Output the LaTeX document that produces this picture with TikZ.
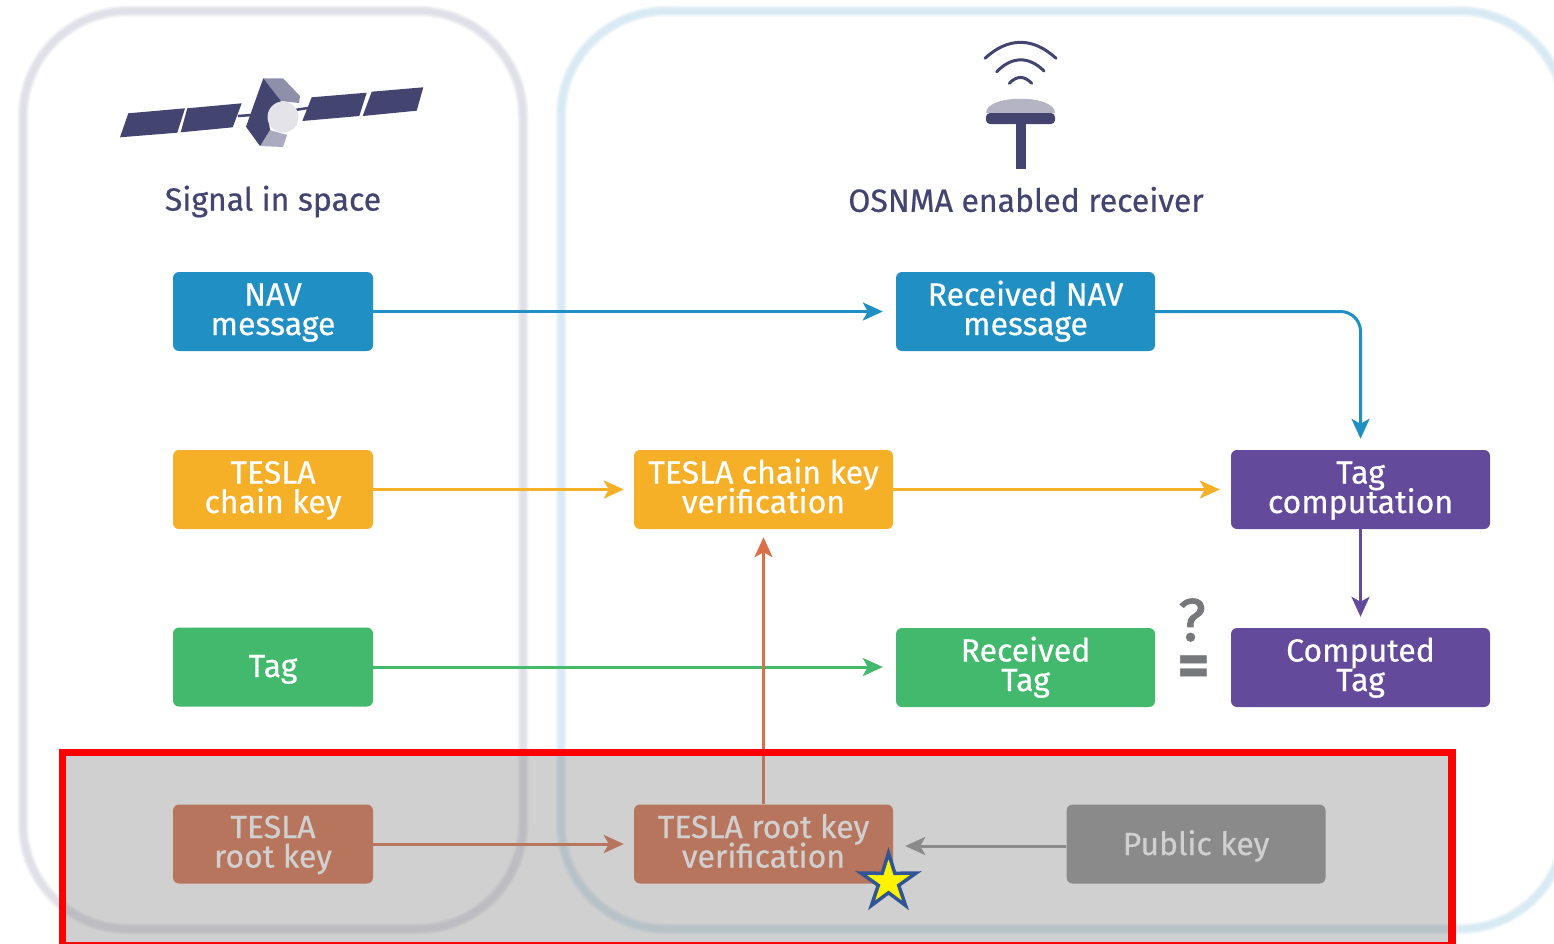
\documentclass[tikz,border=0pt]{standalone}
\usepackage{fontspec}
\setmainfont{Fira Sans}[FakeBold=0.5]
\usetikzlibrary{arrows.meta,shapes.geometric}
\definecolor{navy}{HTML}{43446F}
\definecolor{bluec}{HTML}{2090C4}
\definecolor{orangec}{HTML}{F5B027}
\definecolor{greenc}{HTML}{42B96C}
\definecolor{purplec}{HTML}{634A9B}
\definecolor{brickc}{HTML}{D9704A}
\definecolor{publicc}{HTML}{909193}
\definecolor{lavc}{HTML}{DEDEE8}
\definecolor{skyc}{HTML}{D6E9F3}
\definecolor{qgray}{HTML}{77787B}
\newcommand\myboxfont{\fontsize{32}{29.5}\selectfont\setlength{\lineskiplimit}{-100pt}\setlength{\lineskip}{0pt}}
\tikzset{
  box/.style={rounded corners=6pt,inner sep=0pt,minimum height=79pt,align=center,text=white,
    font=\myboxfont,text height=54pt,text depth=7pt},
  boxs/.style={box,minimum width=200pt},
  boxl/.style={box,minimum width=259pt},
  oneline/.style={text height=23pt,text depth=3pt},
  conn/.style={line width=3pt,-{Stealth[length=20pt,width=18pt,inset=5pt]},shorten >=12pt},
  title/.style={text=navy,inner sep=0pt,font=\fontsize{32}{36}\selectfont},
  sat/.style={fill=navy,draw=none},
  wave/.style={draw=navy,line width=3pt,line cap=round},
  panel/.style={rounded corners=105pt},
}
\begin{document}
\begin{tikzpicture}[x=1pt,y=-1pt]
\useasboundingbox (0,0) rectangle (1554,943);
\clip (0,0) rectangle (1554,943);
\fill[white] (0,0) rectangle (1554,943);
% panels (soft edges)
\foreach \w/\o in {11/.35,8/.5,5/.8}{
  \draw[panel,draw=lavc,line width=\w pt,opacity=\o] (23,11) rectangle (523,929);
  \draw[panel,draw=skyc,line width=\w pt,opacity=\o] (561,11) rectangle (1565,929);
}
% satellite
\fill[sat] (128.3,113.3)--(185,108.3)--(177.3,132.7)--(120,137.3)--cycle;
\fill[sat] (187.3,108.3)--(241.7,103.3)--(232.7,127.3)--(180.7,132.3)--cycle;
\draw[navy,line width=2.5pt] (238,116)--(252,115);
\draw[navy,line width=2.5pt] (295,110)--(308,108);
\fill[sat] (311.7,97.3)--(366.7,92.7)--(359.3,116)--(302.3,121)--cycle;
\fill[sat] (371.7,91.7)--(423.3,87.3)--(416.7,110.7)--(362.7,116)--cycle;
\fill[fill=navy!60!white] (263.3,78.3)--(283,78.3)--(300,96)--(299,103)--(281,101)--cycle;
\fill[fill=navy!45!white] (270,130)--(287,135)--(283,147)--(260,146)--cycle;
\fill[sat] (263.3,78.3)--(281,101)--(268,117)--(270,130)--(260,146)--(246,126.7)--cycle;
\fill[fill=navy!15!white] (283,117) circle (15.5);
% antenna
\draw[wave] (985,58.3) .. controls (1008,37) and (1033,37) .. (1056,58.3);
\draw[wave] (996.7,71.7) .. controls (1012,56) and (1029,56) .. (1044,71);
\draw[wave] (1009.3,83.3) .. controls (1017,75.5) and (1024,75.5) .. (1031.7,83.3);
\fill[navy!40!white] (986,113) .. controls (986,94) and (1055,94) .. (1055,113) -- cycle;
\fill[navy,rounded corners=4pt] (986,113) -- (986,124) -- (1055,124) -- (1055,113) -- cycle;
\fill[navy] (1016,120) rectangle (1026,169);
% titles
\node[title] (sis) at (273,201.5) {Signal in space};
\node[title] (rcv) at (1026,199.5) {OSNMA enabled receiver};
% boxes
\node[boxs,fill=bluec] (nav) at (273,311.5) {NAV\\message};
\node[boxl,fill=bluec] (recnav) at (1025.5,311.5) {Received NAV\\message};
\node[boxs,fill=orangec] (chain) at (273,489.5) {TESLA\\chain key};
\node[boxl,fill=orangec] (chainv) at (763.5,489.5) {TESLA chain key\\verification};
\node[boxl,fill=purplec] (tagc) at (1360.5,489.5) {Tag\\computation};
\node[boxs,fill=greenc,oneline] (tag) at (273,667) {Tag};
\node[boxl,fill=greenc] (rectag) at (1025.5,667.5) {Received\\Tag};
\node[boxl,fill=purplec] (comptag) at (1360.5,667.5) {Computed\\Tag};
\node[boxs,fill=brickc] (root) at (273,844) {TESLA\\root key};
\node[boxl,fill=brickc] (rootv) at (763.5,844) {TESLA root key\\verification};
\node[boxl,fill=publicc,oneline,text height=25pt] (pub) at (1196,844) {Public key};
% connectors
\draw[conn,bluec,shorten >=13pt] (nav) -- (recnav);
\draw[conn,bluec,rounded corners=20pt,shorten >=11pt] (recnav.east) -| (tagc.north);
\draw[conn,orangec,shorten >=10pt] (chain) -- (chainv);
\draw[conn,orangec,shorten >=11pt] (chainv) -- (tagc);
\draw[conn,purplec,shorten >=11pt] (tagc) -- (comptag);
\draw[conn,greenc,shorten >=13pt] (tag.east) -- (tag.east -| rectag.west);
\draw[conn,brickc,shorten >=10pt] (root) -- (rootv);
\draw[conn,brickc,shorten >=8pt] (rootv) -- (chainv);
\draw[conn,publicc] ([yshift=-2pt]pub.west) -- ([yshift=-2pt]rootv.east);
% test sign
\node[text=qgray,inner sep=0pt,font=\fontsize{60}{60}\selectfont\addfontfeature{FakeBold=1.5}] (qm) at (1192,620) {?};
\node[text=qgray,inner sep=0pt,font=\fontsize{62}{62}\selectfont\bfseries] (eq) at (1193.5,671) {=};
% highlight overlay
\fill[fill=black!50,opacity=.37] (62.5,752.5) rectangle (1452,946);
\draw[red,line width=7.5pt] (62.5,752.5) rectangle (1452,946);
\node[star,star points=5,star point ratio=2.7,minimum size=58pt,inner sep=0pt,fill=yellow,draw={rgb,255:red,47;green,85;blue,151},line width=3.5pt] (st) at (888.5,882) {};
\end{tikzpicture}
\end{document}
